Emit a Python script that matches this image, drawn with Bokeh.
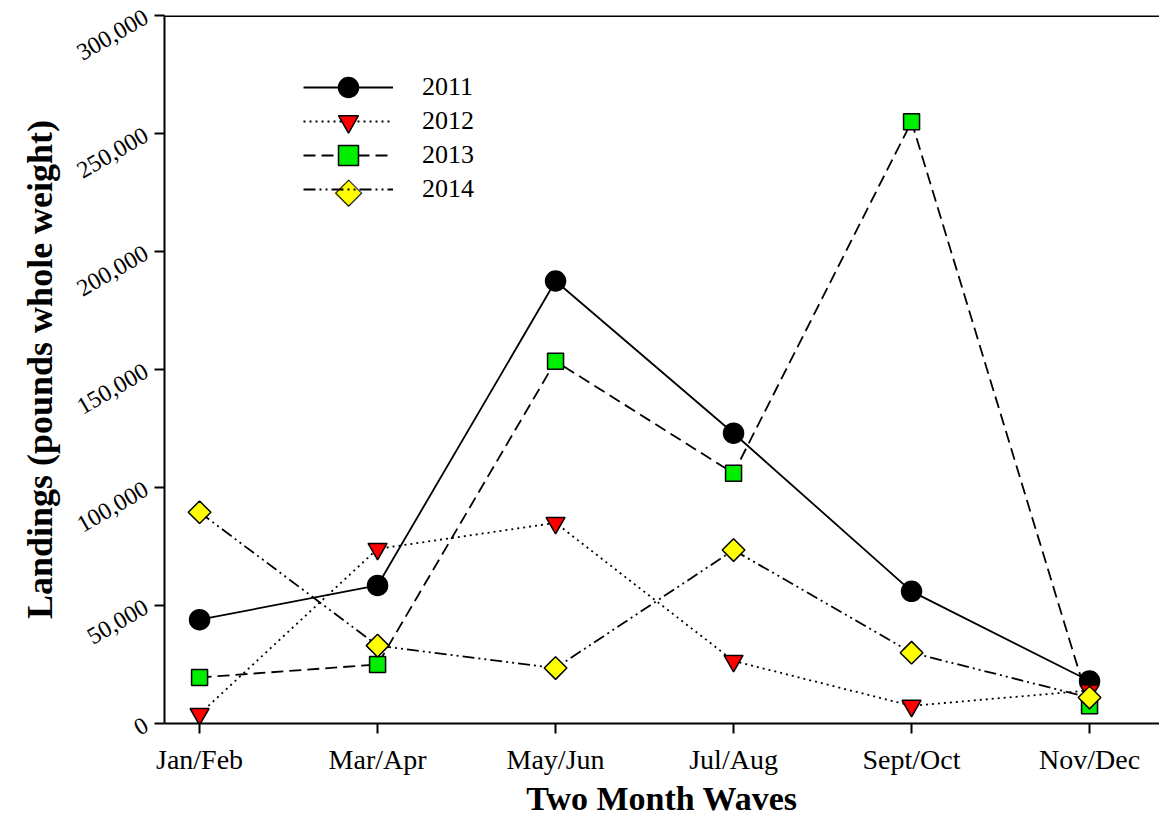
import math
from bokeh.plotting import figure
from bokeh.models import (Range1d, FixedTicker, NumeralTickFormatter, Span,
                          Legend, LegendItem, Label)
from bokeh.embed import file_html
from bokeh.resources import INLINE

# ---- data ----
months = ["Jan/Feb", "Mar/Apr", "May/Jun", "Jul/Aug", "Sept/Oct", "Nov/Dec"]
y2011 = [44000, 58500, 187500, 123000, 56000, 18000]
y2012 = [4000, 74000, 85000, 26500, 7500, 14000]
y2013 = [19500, 25000, 153500, 106000, 255000, 7500]
y2014 = [89500, 33000, 23500, 73500, 30000, 11000]
years = ["2011", "2012", "2013", "2014"]
y_ticks = [0, 50000, 100000, 150000, 200000, 250000, 300000]

xs = list(range(len(months)))
FONT = "Liberation Serif"

p = figure(width=1159, height=819, output_backend="svg", toolbar_location=None,
           x_range=Range1d(-0.197, 5.393), y_range=Range1d(0, 300000),
           min_border_left=164, min_border_right=0, min_border_top=15,
           min_border_bottom=96)
p.outline_line_color = None
p.grid.visible = False
p.background_fill_color = "white"
p.border_fill_color = "white"

# axes
for ax in (p.xaxis[0], p.yaxis[0]):
    ax.axis_line_width = 2
    ax.axis_line_color = "black"
    ax.major_tick_line_width = 2
    ax.major_tick_line_color = "black"
    ax.major_tick_out = 10
    ax.major_tick_in = 0
    ax.minor_tick_line_color = None
    ax.major_label_text_font = FONT
    ax.major_label_text_color = "black"
    ax.axis_label_text_font = FONT
    ax.axis_label_text_font_style = "bold"
    ax.axis_label_text_color = "black"

p.xaxis.ticker = FixedTicker(ticks=xs)
p.xaxis.major_label_overrides = {i: m for i, m in zip(xs, months)}
p.xaxis.major_label_text_font_size = "28px"
p.xaxis.major_label_standoff = 10
p.xaxis.axis_label = "Two Month Waves"
p.xaxis.axis_label_text_font_size = "34px"
p.xaxis.axis_label_standoff = 2

p.yaxis.ticker = FixedTicker(ticks=y_ticks)
p.yaxis.formatter = NumeralTickFormatter(format="0,0")
p.yaxis.major_label_text_font_size = "24px"
p.yaxis.major_label_orientation = math.radians(30)
p.yaxis.major_label_standoff = 8
p.yaxis.axis_label = "Landings (pounds whole weight)"
p.yaxis.axis_label_text_font_size = "36px"
p.yaxis.axis_label_standoff = 8

# top frame line
p.add_layout(Span(location=300000, dimension="width", line_color="black", line_width=3))

series = [y2011, y2012, y2013, y2014]
dashes = ["solid", "2 4", "12 6", "12 4 2 4 2 4"]
markers = ["circle", "inverted_triangle", "square", "square"]
fills = ["black", "#ff0000", "#00ee00", "#ffff00"]
sizes = [20, 19, 16, 16]
angles = [0, 0, 0, math.pi / 4]

lines, scats = [], []
for ys, dash in zip(series, dashes):
    lines.append(p.line(xs, ys, line_color="black", line_width=1.8, line_dash=dash))
for ys, mk, fc, sz, an in zip(series, markers, fills, sizes, angles):
    scats.append(p.scatter(xs, ys, marker=mk, size=sz, angle=an, fill_color=fc,
                           line_color="black", line_width=1.5))

# legend: one row per Legend so rows can sit closer than the glyph box
row_y = [87, 121, 155, 189]   # row centres, px from top of canvas
frame_bottom = 723
for i, yr in enumerate(years):
    rends = [lines[i]] if i == 3 else [lines[i], scats[i]]
    lg = Legend(items=[LegendItem(label=yr, renderers=rends)],
                location=(139, frame_bottom - row_y[i] - 25),
                glyph_width=90, glyph_height=50, label_height=50,
                label_standoff=29, padding=0, margin=0, spacing=0,
                label_text_font=FONT, label_text_font_size="26px",
                label_text_color="black",
                border_line_color=None, background_fill_alpha=0)
    p.add_layout(lg, "center")

# rotated-square (diamond) sample for the 2014 legend row
p.add_layout(Label(x=139 + 45, y=frame_bottom - row_y[3], x_units="screen",
                   y_units="screen", text="\u25c6", text_font="DejaVu Sans",
                   text_font_size="34px", text_color=fills[3],
                   text_outline_color="black", text_align="center",
                   text_baseline="middle"))

open("out.html", "w").write(file_html(p, INLINE))
